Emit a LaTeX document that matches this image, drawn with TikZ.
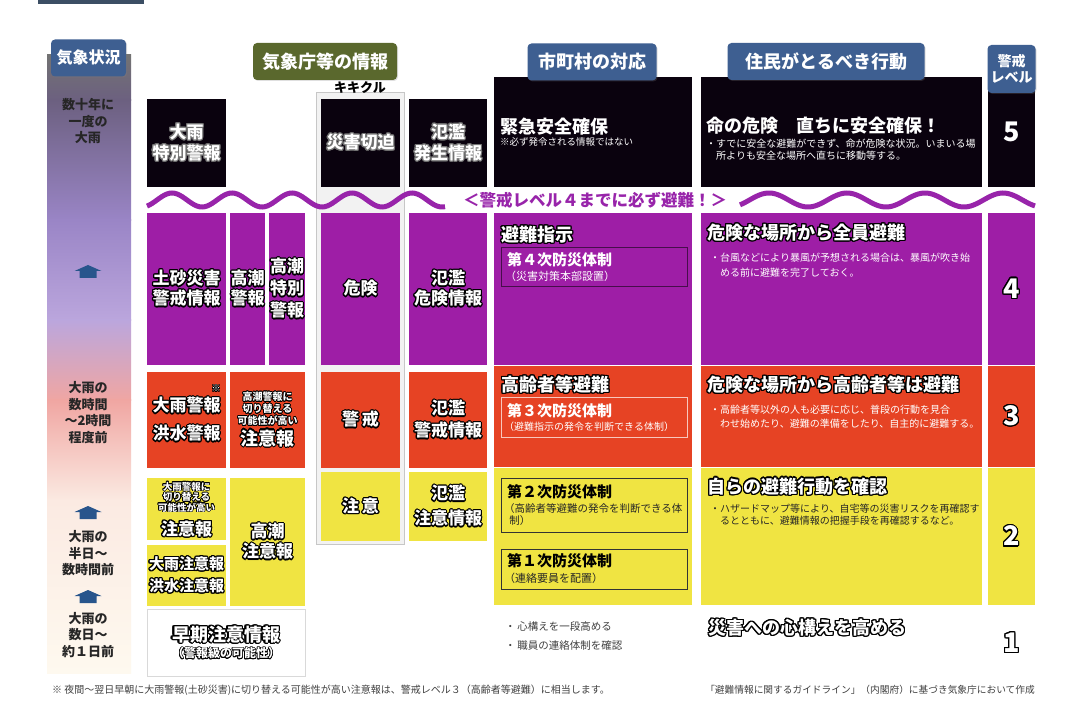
\documentclass[tikz,border=0pt]{standalone}
\usepackage{fontspec}
\setmainfont{Noto Sans CJK JP}
\usepackage[copies]{contour}
\usepackage{tikz}
\usetikzlibrary{positioning}
\usetikzlibrary{shadows}

\contourlength{1.2pt}
\newcommand{\outl}[1]{\contour{black}{#1}}
\newcommand{\outg}[1]{\contour{black!55}{#1}}
\newcommand{\outs}[1]{{\contourlength{0.7pt}\contour{black}{#1}}}

\begin{document}
\begin{tikzpicture}[x=1pt,y=-1pt,
	info box/.style={rectangle,inner sep=0pt,align=center,text=white,
		font=\bfseries\fontsize{17}{21}\selectfont},
	plain box/.style={rectangle,inner sep=0pt},
	level box/.style={info box,minimum width=47pt,font=\bfseries\fontsize{27}{27}\selectfont},
	badge node/.style={rectangle,rounded corners=4pt,inner sep=0pt,align=center,text=white,
		font=\bfseries\fontsize{18}{20}\selectfont,
		drop shadow={opacity=0.25,shadow xshift=1pt,shadow yshift=-1pt}},
	head text/.style={anchor=west,inner sep=0pt,text=white,font=\bfseries\fontsize{18}{20}\selectfont},
	note text/.style={inner sep=0pt,align=left,text=white,font=\fontsize{10}{12}\selectfont},
	tai box/.style={rectangle,draw,line width=0.8pt,inner sep=0pt,minimum width=186pt},
	tai text/.style={anchor=west,inner sep=0pt,font=\bfseries\fontsize{15}{17}\selectfont},
	side text/.style={inner sep=0pt,align=center,text=black!85,font=\bfseries\fontsize{13}{16.5}\selectfont},
	foot text/.style={inner sep=0pt,text=black!75,font=\fontsize{10}{11}\selectfont}]

	\definecolor{lvfive}{RGB}{10,2,14}
	\definecolor{lvfour}{RGB}{158,30,166}
	\definecolor{lvthree}{RGB}{230,67,36}
	\definecolor{lvtwo}{RGB}{240,228,66}
	\definecolor{hdblue}{RGB}{62,95,145}
	\definecolor{hdgreen}{RGB}{90,104,45}
	\definecolor{wavepurple}{RGB}{152,36,170}
	\definecolor{upblue}{RGB}{40,85,140}
	\definecolor{kikigray}{RGB}{242,242,242}
	\definecolor{topbar}{RGB}{60,78,100}

	\useasboundingbox (0,0) rectangle (1080,711);
	\fill[white] (0,0) rectangle (1080,711);
	\fill[topbar] (38,0) rectangle (144,4);

	% weather column
	\shade[top color=black!55, bottom color={rgb,255:red,108;green,96;blue,128}] (47,55) rectangle (131,101);
	\shade[top color={rgb,255:red,108;green,96;blue,128}, bottom color={rgb,255:red,154;green,133;blue,198}] (47,100) rectangle (131,221);
	\shade[top color={rgb,255:red,154;green,133;blue,198}, bottom color={rgb,255:red,187;green,166;blue,221}] (47,220) rectangle (131,321);
	\shade[top color={rgb,255:red,187;green,166;blue,221}, bottom color={rgb,255:red,240;green,166;blue,162}] (47,320) rectangle (131,401);
	\shade[top color={rgb,255:red,240;green,166;blue,162}, bottom color={rgb,255:red,251;green,234;blue,226}] (47,400) rectangle (131,501);
	\shade[top color={rgb,255:red,251;green,234;blue,226}, bottom color={rgb,255:red,254;green,249;blue,239}] (47,500) rectangle (131,673);

	\node[side text] (jukunen) at (88,121.5) {数十年に\\一度の\\大雨};
	\node[side text] (suujikan) at (88,412.5) {大雨の\\数時間\\～2時間\\程度前};
	\node[side text] (hanichi) at (88,553.5) {大雨の\\半日～\\数時間前};
	\node[side text] (suujitsu) at (88,635) {大雨の\\数日～\\約１日前};
	\coordinate (up1) at (88,272);
	\coordinate (up2) at (88,513);
	\coordinate (up3) at (88,597);
	\foreach \c in {up1,up2,up3}
		\fill[upblue] (\c) ++(-13.5,-1) -- ++(13.5,-6) -- ++(13.5,6) -- ++(-5,0)
			-- ++(0,7) -- ++(-17,0) -- ++(0,-7) -- cycle;

	% kikikuru frame
	\node[plain box, draw=black!22, fill=kikigray, minimum width=88pt, minimum height=452pt] (kikiframe) at (360,318) {};
	\node[inner sep=0pt, font=\bfseries\fontsize{13}{15}\selectfont] (kikikuru) at (360,88) {キキクル};

	% level 5
	\node[info box, fill=lvfive, minimum width=79pt, minimum height=88pt] (tokubetsu) at (186.5,143) {\outg{大雨}\\\outg{特別警報}};
	\node[info box, fill=lvfive, minimum width=79pt, minimum height=88pt] (sepaku) at (360.5,143) {\outg{災害切迫}};
	\node[info box, fill=lvfive, minimum width=78pt, minimum height=88pt] (hassei) at (448,143) {\outg{氾濫}\\\outg{発生情報}};
	\node[plain box, fill=lvfive, minimum width=198pt, minimum height=110pt] (city5) at (593,132) {};
	\node[plain box, fill=lvfive, minimum width=281pt, minimum height=110pt] (act5) at (841.5,132) {};
	\node[level box, fill=lvfive, minimum height=110pt] (lv5) at (1011.5,132) {5};
	\node[head text] (kinkyu) at (500,127) {緊急安全確保};
	\node[note text, anchor=west, font=\fontsize{9.5}{11}\selectfont] (kinkyunote) at (500,142) {※必ず発令される情報ではない};
	\node[head text] (inochi) at (706,126) {命の危険　直ちに安全確保！};
	\node[note text, anchor=north west] (act5note) at (706,138.5) {・すでに安全な避難ができず、命が危険な状況。いまいる場\\\hspace{1em}所よりも安全な場所へ直ちに移動等する。};

	% headers
	\node[badge node, fill=hdblue, minimum width=75pt, minimum height=37pt, font=\bfseries\fontsize{16}{18}\selectfont] (kisho) at (88.5,58) {気象状況};
	\node[badge node, fill=hdgreen, minimum width=144pt, minimum height=37pt] (jma) at (325,61.5) {気象庁等の情報};
	\node[badge node, fill=hdblue, minimum width=129pt, minimum height=37pt] (city) at (592,62) {市町村の対応};
	\node[badge node, fill=hdblue, minimum width=197pt, minimum height=37pt] (resident) at (826,61.5) {住民がとるべき行動};
	\node[badge node, fill=hdblue, minimum width=48pt, minimum height=48pt, font=\bfseries\fontsize{14}{16}\selectfont] (lvhead) at (1011.5,69) {警戒\\レベル};

	% wave band
	\draw[wavepurple, line width=5pt] plot[domain=147:445, samples=120, smooth] (\x,{200-7*cos(6*(\x-172))});
	\draw[wavepurple, line width=5pt] plot[domain=740:1035, samples=120, smooth] (\x,{200-7*cos(360/78*(\x-1003))});
	\node[inner sep=0pt, text=wavepurple, font=\bfseries\fontsize{16.5}{18}\selectfont] (mustgo) at (595,200) {＜警戒レベル４までに必ず避難！＞};

	% level 4
	\node[info box, fill=lvfour, minimum width=79pt, minimum height=152pt, font=\bfseries\fontsize{17}{20}\selectfont] (dosha) at (186.5,289) {\outl{土砂災害}\\\outl{警戒情報}};
	\node[info box, fill=lvfour, minimum width=35pt, minimum height=152pt, font=\bfseries\fontsize{17}{20}\selectfont] (takashio4) at (247.5,289) {\outl{高潮}\\\outl{警報}};
	\node[info box, fill=lvfour, minimum width=36pt, minimum height=152pt, font=\bfseries\fontsize{17}{22}\selectfont] (takatoku) at (287,289) {\outl{高潮}\\\outl{特別}\\\outl{警報}};
	\node[info box, fill=lvfour, minimum width=79pt, minimum height=152pt] (kiken) at (360.5,289) {\outl{危険}};
	\node[info box, fill=lvfour, minimum width=78pt, minimum height=152pt, font=\bfseries\fontsize{17}{20}\selectfont] (kikenjoho) at (448,289) {\outl{氾濫}\\\outl{危険情報}};
	\node[plain box, fill=lvfour, minimum width=198pt, minimum height=152pt] (city4) at (593,289) {};
	\node[plain box, fill=lvfour, minimum width=281pt, minimum height=152pt] (act4) at (841.5,289) {};
	\node[level box, fill=lvfour, minimum height=152pt] (lv4) at (1011.5,289) {\outl{4}};
	\node[head text] (hinan) at (501,235) {\outl{避難指示}};
	\node[tai box, draw=black!55!lvfour, minimum height=39pt] (tai4) at (594,266.5) {};
	\node[tai text, text=white] (tai4a) at (507,260) {第４次防災体制};
	\node[note text, anchor=west, font=\fontsize{11}{13}\selectfont] (tai4b) at (505,276) {（災害対策本部設置）};
	\node[head text] (zenin) at (707,233) {\outl{危険な場所から全員避難}};
	\node[note text, anchor=north west, font=\fontsize{10}{15}\selectfont] (act4note) at (710,252.5) {・台風などにより暴風が予想される場合は、暴風が吹き始\\\hspace{1em}める前に避難を完了しておく。};

	% level 3
	\node[info box, fill=lvthree, minimum width=79pt, minimum height=96pt] (amekeiho) at (186.5,420) {\outl{大雨警報}\\[7pt]\outl{洪水警報}};
	\node[inner sep=0pt, text=white, font=\fontsize{9}{9}\selectfont] (kome) at (216,389) {\outs{※}};
	\node[info box, fill=lvthree, minimum width=75pt, minimum height=96pt] (takashio3) at (267.5,420) {};
	\node[info box, font=\bfseries\fontsize{10}{12}\selectfont, below=20pt of takashio3.north] (kirikae3) {\outs{高潮警報に}\\\outs{切り替える}\\\outs{可能性が高い}};
	\node[info box, font=\bfseries\fontsize{18}{20}\selectfont, below=3pt of kirikae3] (chuiho3) {\outl{注意報}};
	\node[info box, fill=lvthree, minimum width=79pt, minimum height=96pt] (keikai) at (360.5,420) {\outl{警\,戒}};
	\node[info box, fill=lvthree, minimum width=78pt, minimum height=96pt, font=\bfseries\fontsize{17}{22}\selectfont] (keikaijoho) at (448,420) {\outl{氾濫}\\\outl{警戒情報}};
	\node[plain box, fill=lvthree, minimum width=198pt, minimum height=101pt] (city3) at (593,416.5) {};
	\node[plain box, fill=lvthree, minimum width=281pt, minimum height=101pt] (act3) at (841.5,416.5) {};
	\node[level box, fill=lvthree, minimum height=101pt] (lv3) at (1011.5,416.5) {\outl{3}};
	\node[head text] (koreisha) at (501,385) {\outl{高齢者等避難}};
	\node[tai box, draw=white!70!lvthree, minimum height=40pt] (tai3) at (594,417) {};
	\node[tai text, text=white] (tai3a) at (507,411) {第３次防災体制};
	\node[note text, anchor=west] (tai3b) at (504,427) {（避難指示の発令を判断できる体制）};
	\node[head text] (koreisha2) at (707,385) {\outl{危険な場所から高齢者等は避難}};
	\node[note text, anchor=north west, font=\fontsize{10}{14}\selectfont] (act3note) at (710,404.5) {・高齢者等以外の人も必要に応じ、普段の行動を見合\\\hspace{1em}わせ始めたり、避難の準備をしたり、自主的に避難する。};

	% level 2
	\node[info box, fill=lvtwo, minimum width=79pt, minimum height=62pt] (amechui1) at (186.5,509) {};
	\node[info box, font=\bfseries\fontsize{9.5}{10.5}\selectfont, below=4pt of amechui1.north] (kirikae2) {\outs{大雨警報に}\\\outs{切り替える}\\\outs{可能性が高い}};
	\node[info box, font=\bfseries\fontsize{17}{19}\selectfont, below=7.5pt of kirikae2] (chuiho2) {\outl{注意報}};
	\node[info box, fill=lvtwo, minimum width=79pt, minimum height=61pt, font=\bfseries\fontsize{15}{22}\selectfont] (amechui2) at (186.5,575.5) {\outl{大雨注意報}\\\outl{洪水注意報}};
	\node[info box, fill=lvtwo, minimum width=75pt, minimum height=128pt, font=\bfseries\fontsize{17}{20}\selectfont] (takashio2) at (267.5,542) {\outl{高潮}\\\outl{注意報}};
	\node[info box, fill=lvtwo, minimum width=79pt, minimum height=69pt] (chui) at (360.5,506.5) {\outl{注\,意}};
	\node[info box, fill=lvtwo, minimum width=78pt, minimum height=69pt] (chuijoho) at (448,506.5) {\outl{氾濫}\\[4pt]\outl{注意情報}};
	\node[plain box, fill=lvtwo, minimum width=198pt, minimum height=137pt] (city2) at (593,536.5) {};
	\node[plain box, fill=lvtwo, minimum width=281pt, minimum height=137pt] (act2) at (841.5,536.5) {};
	\node[level box, fill=lvtwo, minimum height=137pt] (lv2) at (1011.5,536.5) {\outl{2}};
	\node[tai box, draw=black!80, minimum height=54pt] (tai2) at (594,505) {};
	\node[tai text] (tai2a) at (507,492) {第２次防災体制};
	\node[note text, text=black!85, anchor=north west, font=\fontsize{10.5}{12}\selectfont] (tai2b) at (504,503.3) {（高齢者等避難の発令を判断できる体\\\hspace{0.5em}制）};
	\node[tai box, draw=black!80, minimum height=40pt] (tai1) at (594,569) {};
	\node[tai text] (tai1a) at (507,561) {第１次防災体制};
	\node[note text, text=black!85, anchor=west, font=\fontsize{11}{13}\selectfont] (tai1b) at (504,578) {（連絡要員を配置）};
	\node[head text] (mizukara) at (707,487) {\outl{自らの避難行動を確認}};
	\node[note text, text=black!85, anchor=north west] (act2note) at (710,503.5) {・ハザードマップ等により、自宅等の災害リスクを再確認す\\\hspace{1em}るとともに、避難情報の把握手段を再確認するなど。};

	% level 1
	\node[info box, fill=white, draw=black!15, minimum width=158pt, minimum height=67pt] (soki) at (226,642.5) {};
	\node[info box, font=\bfseries\fontsize{18}{20}\selectfont] (sokitxt) at (226,635) {\outl{早期注意情報}};
	\node[info box, font=\bfseries\fontsize{12}{14}\selectfont, below=3pt of sokitxt] (sokinote) {\outs{（警報級の可能性）}};
	\node[note text, text=black!75, anchor=west, font=\fontsize{10.5}{12}\selectfont] (kokoro1) at (505,627) {・\,心構えを一段高める};
	\node[note text, text=black!75, font=\fontsize{10.5}{12}\selectfont, below=8pt of kokoro1.south west, anchor=north west] (kokoro2) {・\,職員の連絡体制を確認};
	\node[head text] (kokoroe) at (708,628) {\outl{災害への心構えを高める}};
	\node[level box] (lv1) at (1011.5,643) {\outl{1}};

	% footnotes
	\node[foot text, anchor=west] (footl) at (52,690) {※ 夜間～翌日早朝に大雨警報(土砂災害)に切り替える可能性が高い注意報は、警戒レベル３（高齢者等避難）に相当します。};
	\node[foot text, anchor=east, font=\fontsize{9.7}{11}\selectfont] (footr) at (1035,690) {「避難情報に関するガイドライン」（内閣府）に基づき気象庁において作成};
\end{tikzpicture}
\end{document}
